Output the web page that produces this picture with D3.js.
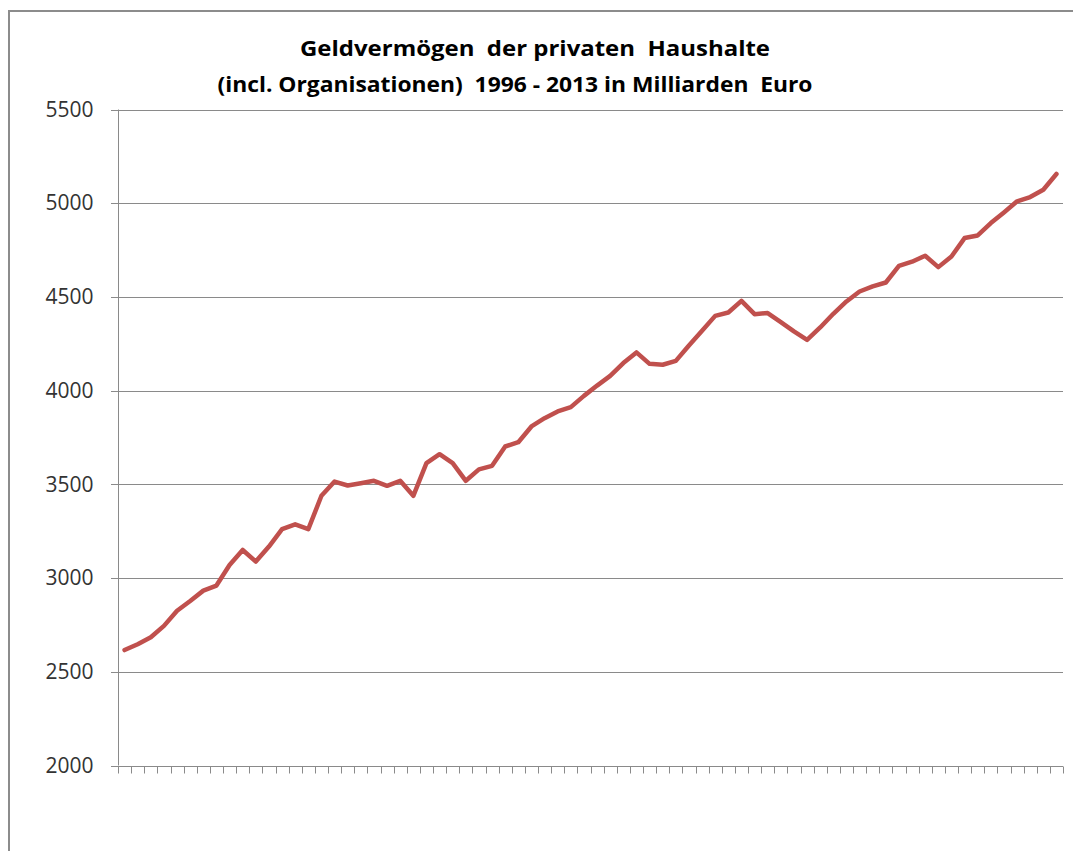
<!DOCTYPE html>
<html>
<head>
<meta charset="utf-8">
<script src="https://cdn.jsdelivr.net/npm/d3@7"></script>
<style>
  body { margin: 0; background: #fff; }
  svg { display: block; }
</style>
</head>
<body>
<svg id="chart"></svg>
<script>
// Geldvermögen der privaten Haushalte, Quartale 1996 - 2013 (Mrd. Euro)
var titelZeilen = ["Geldvermögen  der privaten  Haushalte", "(incl. Organisationen)  1996 - 2013 in Milliarden  Euro"];

var jahre = d3.range(1996, 2014);
var quartale = [];
jahre.forEach(function (j) {
  for (var q = 1; q <= 4; q++) quartale.push(j + "Q" + q);
});

var werte = [
  2616, 2647, 2684, 2745, 2826, 2878, 2933, 2960,
  3070, 3150, 3088, 3168, 3261, 3287, 3261, 3439,
  3515, 3494, 3506, 3519, 3492, 3519, 3439, 3613,
  3661, 3613, 3519, 3580, 3599, 3702, 3725, 3809,
  3853, 3889, 3912, 3972, 4027, 4079, 4147, 4204,
  4143, 4138, 4159, 4241, 4319, 4399, 4417, 4479,
  4408, 4414, 4366, 4316, 4271, 4337, 4410, 4476,
  4529, 4556, 4577, 4666, 4688, 4720, 4659, 4716,
  4814, 4828, 4894, 4951, 5010, 5033, 5072, 5156
];

var yTicks = [2000, 2500, 3000, 3500, 4000, 4500, 5000, 5500];

var breite = 1073, hoehe = 851;
var links = 118, rechts = 1063, oben = 109.5, unten = 765.5;

var svg = d3.select("#chart")
  .attr("width", breite)
  .attr("height", hoehe);

// Rahmen (nur links und oben sichtbar)
svg.append("path")
  .attr("d", "M9," + hoehe + " L9,11 L" + breite + ",11")
  .attr("fill", "none")
  .attr("stroke", "#8c8c8c")
  .attr("stroke-width", 2);

var x = d3.scaleBand()
  .domain(quartale)
  .range([links, rechts]);

var y = d3.scaleLinear()
  .domain([2000, 5500])
  .range([unten, oben]);

// Gitterlinien
svg.append("g")
  .selectAll("line")
  .data(yTicks)
  .enter()
  .append("line")
  .attr("x1", links - 7)
  .attr("x2", rechts)
  .attr("y1", function (d) { return Math.round(y(d)) + 0.5; })
  .attr("y2", function (d) { return Math.round(y(d)) + 0.5; })
  .attr("stroke", "#8a8a8a")
  .attr("stroke-width", 1);

// y-Achse
var yAchse = svg.append("g")
  .attr("transform", "translate(" + (links + 0.5) + ",0)")
  .call(d3.axisLeft(y).tickValues(yTicks).tickSize(7).tickPadding(18).tickFormat(d3.format("d")));
yAchse.select(".domain").attr("stroke", "#8a8a8a").attr("d", "M0," + oben + "V" + unten);
yAchse.selectAll(".tick line").remove();
yAchse.selectAll("text")
  .attr("fill", "#333")
  .style("font-family", "'Open Sans', 'Liberation Sans', sans-serif")
  .style("font-size", "21px");

// x-Achse (Kategorien, Striche zwischen den Quartalen)
var xAchse = svg.append("g")
  .attr("transform", "translate(0," + (Math.round(unten) + 0.5) + ")");
xAchse.append("line")
  .attr("x1", links)
  .attr("x2", rechts)
  .attr("stroke", "#8a8a8a");
xAchse.selectAll("line.strich")
  .data(quartale.concat(["ende"]))
  .enter()
  .append("line")
  .attr("class", "strich")
  .attr("x1", function (d, i) { return Math.round(links + i * x.step()) + 0.5; })
  .attr("x2", function (d, i) { return Math.round(links + i * x.step()) + 0.5; })
  .attr("y1", 0)
  .attr("y2", 7)
  .attr("stroke", "#8a8a8a");

// Linie
var linie = d3.line()
  .x(function (d, i) { return x(quartale[i]) + x.bandwidth() / 2; })
  .y(function (d) { return y(d); });

svg.append("path")
  .datum(werte)
  .attr("d", linie)
  .attr("fill", "none")
  .attr("stroke", "#c0504d")
  .attr("stroke-width", 4.5)
  .attr("stroke-linejoin", "round")
  .attr("stroke-linecap", "round");

// Titel
var titelBreiten = [470, 595];
var titelMitte = [535, 515];
svg.append("g")
  .selectAll("text")
  .data(titelZeilen)
  .enter()
  .append("text")
  .attr("x", function (d, i) { return titelMitte[i]; })
  .attr("y", function (d, i) { return 56 + i * 36; })
  .attr("text-anchor", "middle")
  .attr("textLength", function (d, i) { return titelBreiten[i]; })
  .attr("lengthAdjust", "spacingAndGlyphs")
  .style("font-family", "'Open Sans', 'Liberation Sans', sans-serif")
  .style("font-weight", "bold")
  .style("font-size", "22px")
  .attr("fill", "#000")
  .style("white-space", "pre")
  .text(function (d) { return d; });
</script>
</body>
</html>
